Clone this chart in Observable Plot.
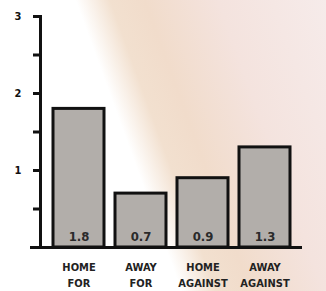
<!DOCTYPE html>
<html>
<head>
<meta charset="utf-8">
<script src="https://cdn.jsdelivr.net/npm/d3@7"></script>
<script src="https://cdn.jsdelivr.net/npm/@observablehq/plot@0.6"></script>
<style>
  html, body { margin: 0; padding: 0; }
  body {
    width: 326px; height: 291px; overflow: hidden; position: relative;
    background: linear-gradient(70deg, #ffffff 0%, #ffffff 42%, #f2e0cf 50%, #f1dccb 58%, #f4e3de 75%, #f6ebea 100%);
  }
  #title {
    position: absolute; left: 62px; top: -33px; width: 210px; text-align: center;
    font: 900 34px "DejaVu Sans Condensed", "DejaVu Sans", sans-serif; color: #222;
    white-space: nowrap; letter-spacing: 1px;
  }
  #chart { position: absolute; left: 0; top: 0; }
</style>
</head>
<body>
<div id="title">PER GAME</div>
<div id="chart"></div>
<script>
const categories = ["HOME\nFOR", "AWAY\nFOR", "HOME\nAGAINST", "AWAY\nAGAINST"];
const values = [1.8, 0.7, 0.9, 1.3];
const valueLabels = ["1.8", "0.7", "0.9", "1.3"];
const yTicks = [0.5, 1, 1.5, 2, 2.5, 3];
const yLabels = [1, 2, 3];

const data = categories.map((c, i) => ({cat: c, value: values[i], label: valueLabels[i]}));

const chart = Plot.plot({
  width: 326,
  height: 291,
  marginLeft: 40,
  marginRight: 24,
  marginTop: 16,
  marginBottom: 44,
  style: {background: "transparent", fontFamily: "'DejaVu Sans Condensed', 'DejaVu Sans', sans-serif"},
  x: {domain: categories, paddingInner: 0.18, paddingOuter: 0.19, axis: null},
  y: {domain: [0, 3], axis: null},
  marks: [
    Plot.barY(data, {x: "cat", y: "value", fill: "#b2aeaa", stroke: "#111", strokeWidth: 3}),
    Plot.text(data, {x: "cat", y: 0, text: "label", dy: -11, fontSize: 13, fontWeight: "bold", fill: "#2a2a2a", letterSpacing: 1}),
    Plot.text(data, {x: "cat", y: 0, text: "cat", dy: 12, lineAnchor: "top", lineHeight: 1.45, fontSize: 11, fontWeight: "bold", fill: "#222"}),
    Plot.axisY({ticks: yTicks, tickSize: 7, tickPadding: 12, strokeWidth: 3, stroke: "#111", label: null,
      tickFormat: d => yLabels.includes(d) ? String(d) : "", fontSize: 11, fontWeight: "bold", color: "#111"}),
    Plot.axisY({ticks: [0], tickSize: 10, strokeWidth: 3, stroke: "#111", label: null, tickFormat: () => ""}),
    Plot.frame({anchor: "left", stroke: "#111", strokeWidth: 3}),
    Plot.ruleY([0], {stroke: "#111", strokeWidth: 3})
  ]
});
document.getElementById("chart").appendChild(chart);
</script>
</body>
</html>
